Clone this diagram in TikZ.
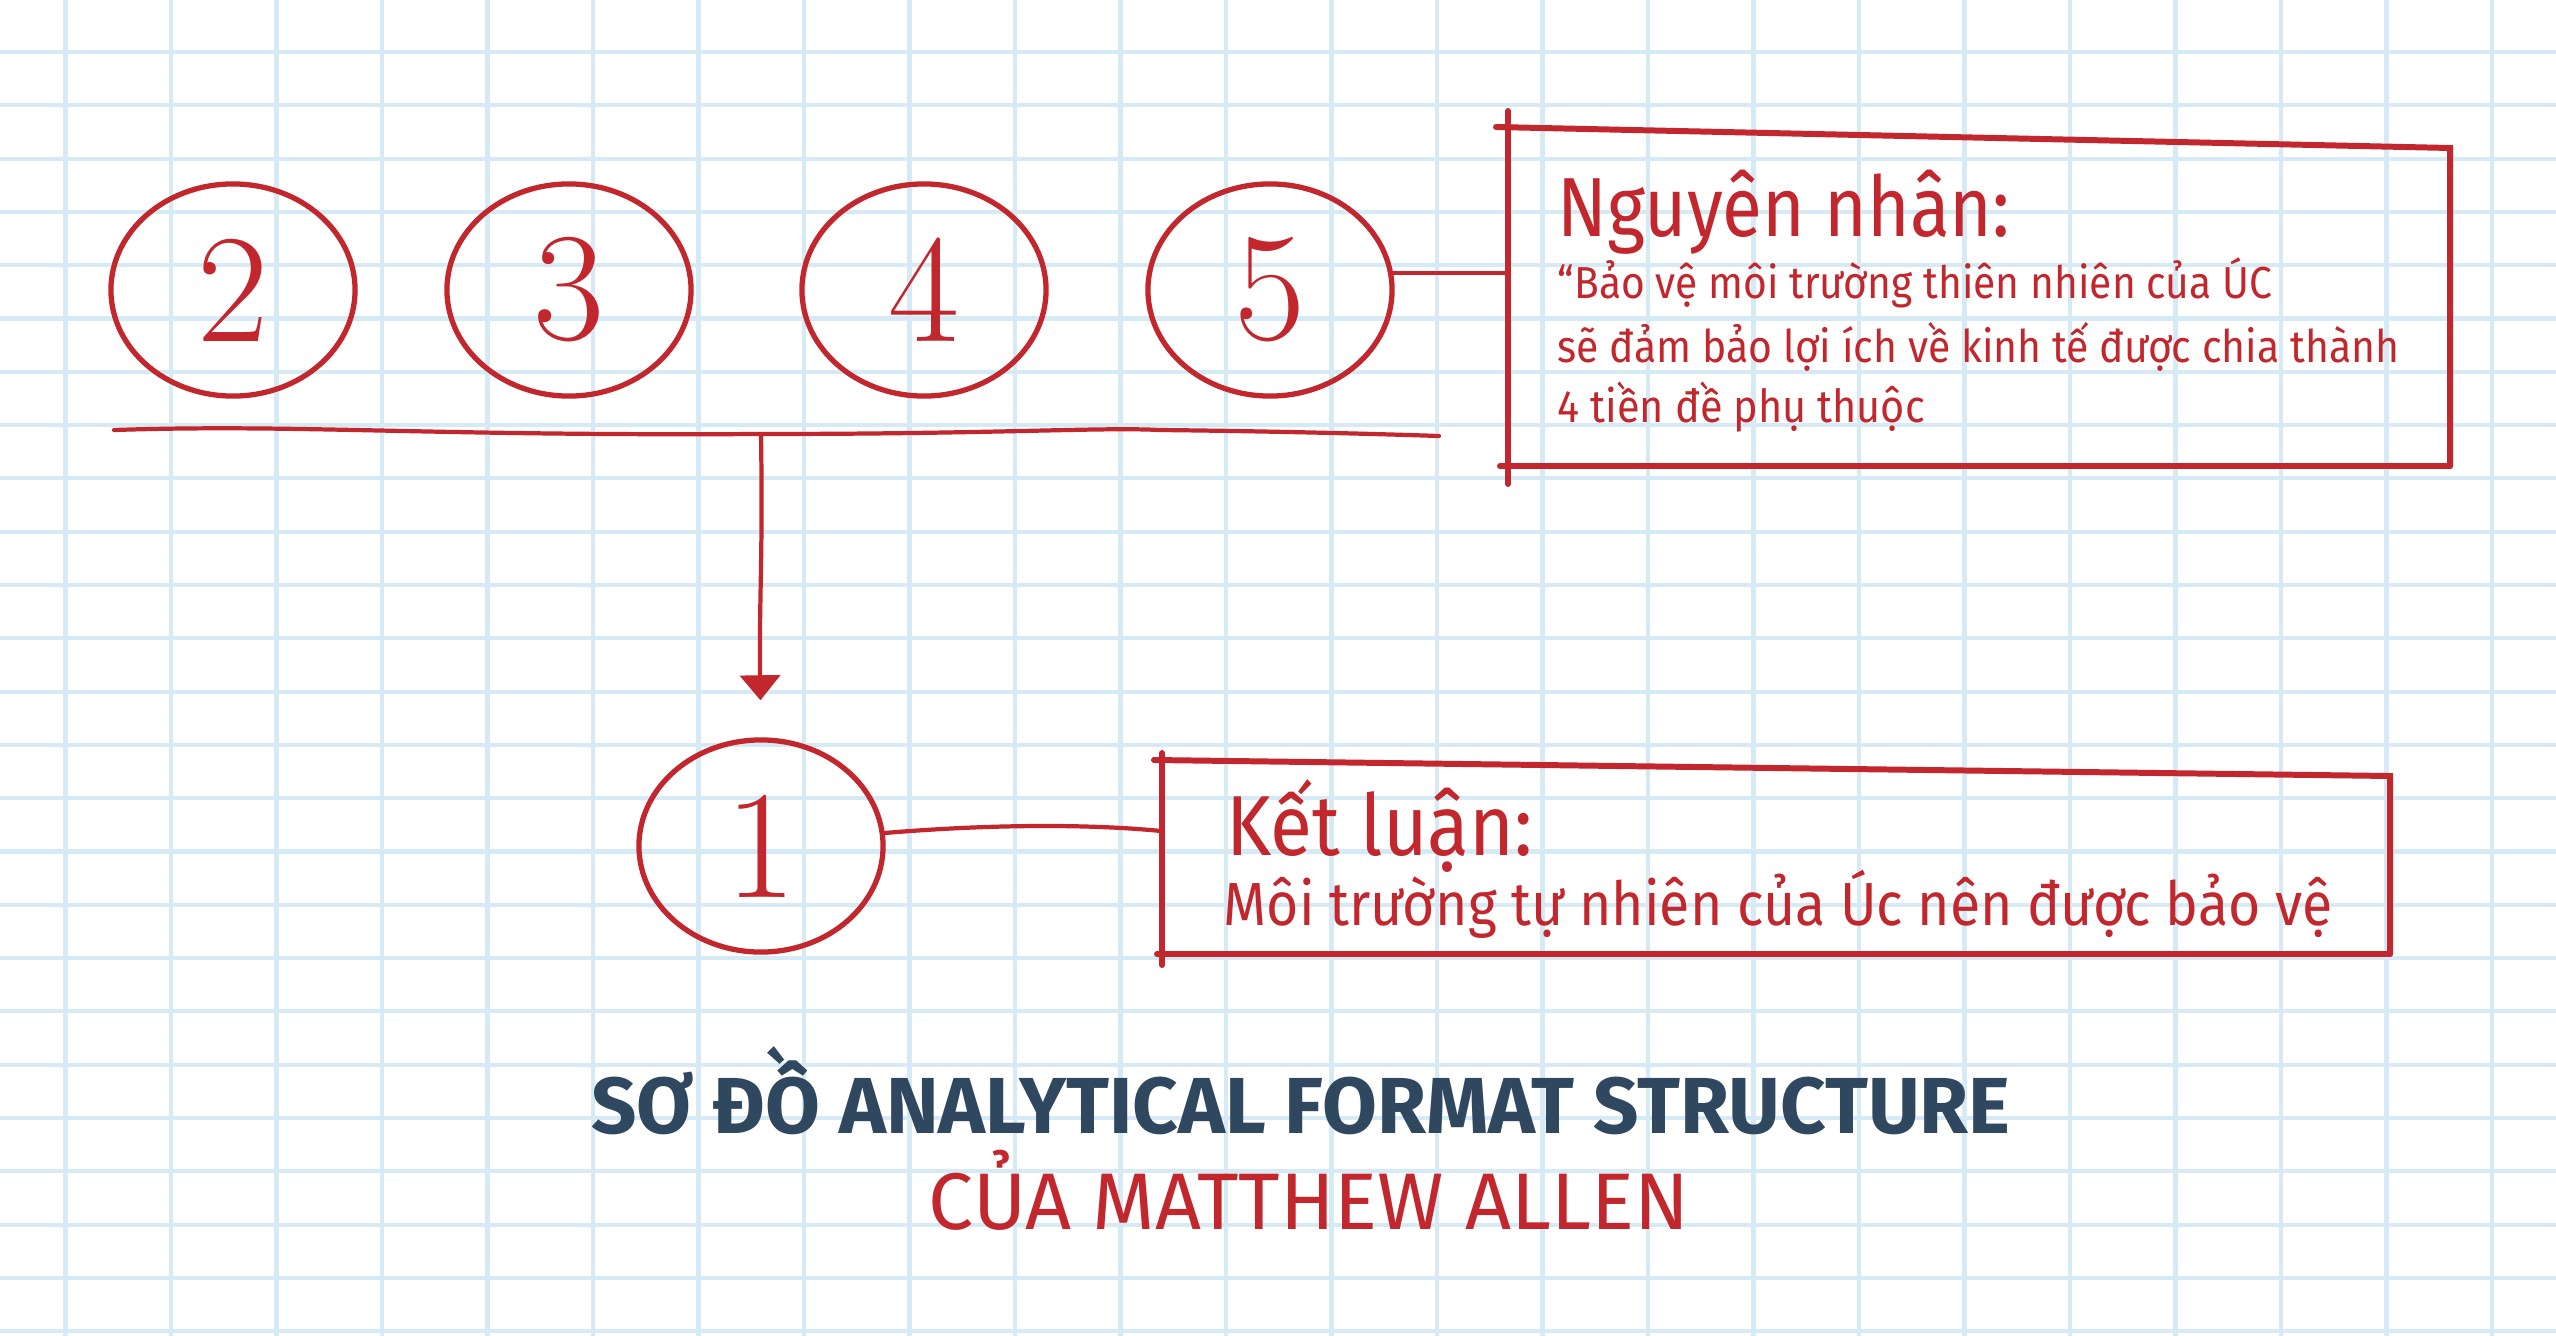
\documentclass[tikz,border=0pt]{standalone}
\usepackage{fontspec}
\newfontfamily\txtfont{Fira Sans}
\newfontfamily\ttlfont{Fira Sans}
\usetikzlibrary{shapes.geometric,arrows.meta,calc}
\definecolor{gridblue}{RGB}{214,234,245}
\definecolor{inkred}{RGB}{193,39,45}
\definecolor{titleblue}{RGB}{47,72,96}
\newcommand{\fitw}[3]{\scalebox{1}[#1]{\resizebox{#2}{!}{#3}}}
\tikzset{
  gridline/.style={draw=gridblue, line width=1.15pt},
  numcircle/.style={ellipse, draw=inkred, line width=1.5pt, minimum width=2.44cm, minimum height=2.12cm, inner sep=0pt, text=inkred, font=\fontsize{44}{44}\selectfont},
  inkline/.style={draw=inkred, line width=1.2pt, line cap=round},
  boxedge/.style={draw=inkred, line width=1.7pt, line cap=round},
  txt/.style={text=inkred, inner sep=0pt, anchor=base west, font=\txtfont},
  boxspace/.style={rectangle, draw=none, inner sep=0pt},
}
\begin{document}
\begin{tikzpicture}[x=0.01cm,y=-0.01cm]
\useasboundingbox (0,0) rectangle (2556,1336);
\fill[white] (0,0) rectangle (2556,1336);
% grid
\foreach \i in {0,...,23} \draw[gridline] ({65.5+105.5*\i},0) -- ({65.5+105.5*\i},1336);
\foreach \j in {0,...,24} \draw[gridline] (0,{52+53.3*\j}) -- (2556,{52+53.3*\j});

% numbered circles
\node[numcircle] (c2) at (233,290) {2};
\node[numcircle] (c3) at (569,290) {3};
\node[numcircle] (c4) at (924,290) {4};
\node[numcircle] (c5) at (1270,290) {5};
\node[numcircle] (c1) at (761,846) {1};

% underline and junction
\coordinate (ulL) at (114,430);
\coordinate (j) at (761,434);
\coordinate (ulR) at (1439,436);
\draw[inkline] (ulL) .. controls (300,424) and (420,436) .. (j) .. controls (1000,434) and (1100,427) .. (1160,430) .. controls (1250,431) and (1350,433) .. (ulR);
\draw[inkline, -{Triangle[width=0.40cm,length=0.25cm]}, shorten >=0.37cm] (j) .. controls (763,560) and (759,600) .. (c1.north);

% box 1 (Nguyen nhan)
\node[boxspace, minimum width=9.42cm, minimum height=3.39cm] (b1) at (1979,296) {};
\draw[boxedge] (1496,127) -- (2450,148) -- (2450,466);
\draw[boxedge] (1500,466) -- (2450,466);
\draw[boxedge] (1508,111) -- (1508,484);
\draw[inkline] (c5.8) -- (c5.8 -| b1.west);

\node[txt] (t1) at (1557,236) {\fitw{1.15}{4.52cm}{Nguyên nhân:}};
\node[txt] (t2) at (1557,298) {\fitw{1.1}{7.14cm}{“Bảo vệ môi trường thiên nhiên của ÚC}};
\node[txt] (t3) at (1557,362) {\fitw{1.1}{8.41cm}{sẽ đảm bảo lợi ích về kinh tế được chia thành}};
\node[txt] (t4) at (1557,422) {\fitw{1.1}{3.67cm}{4 tiền đề phụ thuộc}};

% box 2 (Ket luan)
\node[boxspace, minimum width=12.28cm, minimum height=1.86cm] (b2) at (1776,861) {};
\draw[boxedge] (1154,760) -- (2390,776) -- (2390,954);
\draw[boxedge] (1157,954) -- (2390,954);
\draw[boxedge] (1162,753) -- (1162,965);
\draw[inkline] (c1.6) .. controls ($(c1.6)+(120,-10)$) and ($(b2.west)+(-60,-36)$) .. ($(b2.west)+(0,-30)$);

\node[txt] (k1) at (1226,855) {\fitw{1.11}{3.06cm}{Kết luận:}};
\node[txt] (k2) at (1223,925) {\fitw{1.1}{11.08cm}{Môi trường tự nhiên của Úc nên được bảo vệ}};

% title
\node[inner sep=0pt, anchor=base, text=titleblue, font=\ttlfont\bfseries] (ttl1) at (1301,1133) {\resizebox{14.18cm}{!}{SƠ ĐỒ ANALYTICAL FORMAT STRUCTURE}};
\node[inner sep=0pt, anchor=base, text=inkred, font=\ttlfont] (ttl2) at (1309,1229) {\resizebox{7.6cm}{!}{CỦA MATTHEW ALLEN}};
\end{tikzpicture}
\end{document}
